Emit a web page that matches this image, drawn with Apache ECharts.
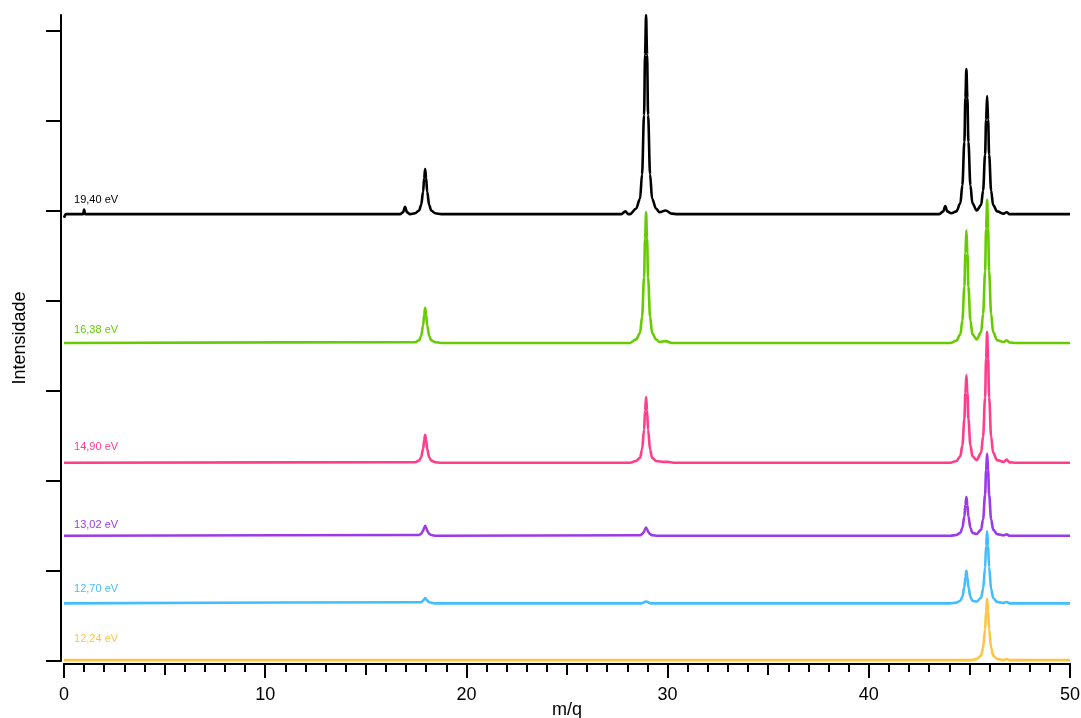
<!DOCTYPE html>
<html>
<head>
<meta charset="utf-8">
<title>Espectros de massa</title>
<script src="https://cdn.jsdelivr.net/npm/echarts@6/dist/echarts.min.js"></script>
<style>
html,body{margin:0;padding:0;background:#fff;}
#main{width:1081px;height:718px;}
</style>
</head>
<body>
<div id="main"></div>
<script>
// energias (legenda de cada espectro)
var energias = ['19,40 eV', '16,38 eV', '14,90 eV', '13,02 eV', '12,70 eV', '12,24 eV'];
// deslocamento vertical de cada espectro (linha de base)
var deslocamentos = [4.96, 3.53, 2.20, 1.39, 0.64, 0.01];
var xTicks = [0, 10, 20, 30, 40, 50];
var yTicks = [0, 1, 2, 3, 4, 5, 6, 7];

// pontos [m/q, intensidade acima da linha de base]
var e1940 = [[0,-0.04],[0.1,0],[0.95,0],[1.0,0.05],[1.05,0],[16.7,0],[16.85,0.02],[16.95,0.08],[17.05,0.02],[17.2,0],
  [17.45,0.01],[17.65,0.04],[17.75,0.10],[17.85,0.25],[17.9,0.40],[17.95,0.50],[18.0,0.40],[18.05,0.25],[18.15,0.10],[18.25,0.04],[18.45,0.01],[18.75,0],
  [27.7,0],[27.9,0.03],[28.05,0],[28.13,0],[28.43,0.06],[28.63,0.17],[28.73,0.44],[28.83,1.10],[28.88,1.77],[28.93,2.21],[28.98,1.77],[29.03,1.10],[29.13,0.44],[29.23,0.17],[29.43,0.06],
  [29.6,0.02],[29.9,0.04],[30.2,0.005],[30.5,0],
  [43.5,0],[43.7,0.03],[43.8,0.09],[43.9,0.03],[44.1,0.01],[44.35,0.03],[44.55,0.12],[44.65,0.32],[44.75,0.80],[44.8,1.29],[44.85,1.61],[44.9,1.29],[44.95,0.80],[45.05,0.32],[45.15,0.12],[45.36,0.04],
  [45.58,0.10],[45.68,0.26],[45.78,0.66],[45.83,1.05],[45.88,1.31],[45.93,1.05],[45.98,0.66],[46.08,0.26],[46.18,0.10],[46.38,0.03],[46.7,0.005],[46.85,0.02],[47.0,0],[50,0]];
var e1638 = [[0,0],[17.45,0.008],[17.65,0.03],[17.75,0.078],[17.85,0.195],[17.9,0.31],[17.95,0.39],[18.0,0.31],[18.05,0.195],[18.15,0.078],[18.25,0.03],[18.45,0.008],[18.75,0],
  [28.13,0],[28.43,0.04],[28.63,0.11],[28.73,0.29],[28.83,0.725],[28.88,1.16],[28.93,1.45],[28.98,1.16],[29.03,0.725],[29.13,0.29],[29.23,0.11],[29.43,0.04],[29.6,0.01],[29.9,0.02],[30.2,0],
  [44.05,0],[44.35,0.025],[44.55,0.095],[44.65,0.25],[44.75,0.625],[44.8,1.0],[44.85,1.25],[44.9,1.0],[44.95,0.625],[45.05,0.25],[45.15,0.095],[45.36,0.04],
  [45.58,0.12],[45.68,0.32],[45.78,0.795],[45.83,1.27],[45.88,1.59],[45.93,1.27],[45.98,0.795],[46.08,0.32],[46.18,0.12],[46.38,0.03],[46.7,0.01],[46.85,0.03],[47.0,0.005],[47.3,0],[50,0]];
var e1490 = [[0,0],[17.45,0.006],[17.65,0.024],[17.75,0.062],[17.85,0.155],[17.9,0.25],[17.95,0.31],[18.0,0.25],[18.05,0.155],[18.15,0.062],[18.25,0.024],[18.45,0.006],[18.75,0],
  [28.13,0],[28.43,0.02],[28.63,0.055],[28.73,0.146],[28.83,0.365],[28.88,0.58],[28.93,0.73],[28.98,0.58],[29.03,0.365],[29.13,0.146],[29.23,0.055],[29.43,0.02],[29.8,0.01],[30.0,0.01],[30.3,0],
  [44.05,0],[44.35,0.02],[44.55,0.073],[44.65,0.194],[44.75,0.485],[44.8,0.78],[44.85,0.97],[44.9,0.78],[44.95,0.485],[45.05,0.194],[45.15,0.073],[45.36,0.03],
  [45.58,0.11],[45.68,0.29],[45.78,0.725],[45.83,1.16],[45.88,1.45],[45.93,1.16],[45.98,0.725],[46.08,0.29],[46.18,0.11],[46.38,0.03],[46.7,0.01],[46.85,0.035],[47.0,0.005],[47.3,0],[50,0]];
var e1302 = [[0,0],[17.65,0.008],[17.75,0.022],[17.85,0.055],[17.9,0.088],[17.95,0.11],[18.0,0.088],[18.05,0.055],[18.15,0.022],[18.25,0.008],[18.5,0],
  [28.63,0.006],[28.73,0.018],[28.83,0.045],[28.88,0.072],[28.93,0.09],[28.98,0.072],[29.03,0.045],[29.13,0.018],[29.23,0.006],[29.5,0],
  [44.05,0],[44.35,0.009],[44.55,0.032],[44.65,0.086],[44.75,0.215],[44.8,0.344],[44.85,0.43],[44.9,0.344],[44.95,0.215],[45.05,0.086],[45.15,0.032],[45.36,0.02],
  [45.58,0.068],[45.68,0.182],[45.78,0.455],[45.83,0.73],[45.88,0.91],[45.93,0.73],[45.98,0.455],[46.08,0.182],[46.18,0.068],[46.38,0.018],[46.7,0.005],[46.85,0.015],[47.0,0],[50,0]];
var e1270 = [[0,0],[17.75,0.012],[17.85,0.03],[17.95,0.06],[18.05,0.03],[18.15,0.012],[18.4,0],
  [28.7,0],[28.93,0.02],[29.15,0],
  [44.05,0],[44.35,0.008],[44.55,0.028],[44.65,0.072],[44.75,0.18],[44.8,0.29],[44.85,0.36],[44.9,0.29],[44.95,0.18],[45.05,0.072],[45.15,0.028],[45.36,0.02],
  [45.58,0.06],[45.68,0.16],[45.78,0.40],[45.83,0.64],[45.88,0.80],[45.93,0.64],[45.98,0.40],[46.08,0.16],[46.18,0.06],[46.38,0.016],[46.7,0.005],[46.85,0.015],[47.0,0],[50,0]];
var e1224 = [[0,0],[45.08,0],[45.38,0.014],[45.58,0.05],[45.68,0.136],[45.78,0.34],[45.83,0.544],[45.88,0.68],[45.93,0.544],[45.98,0.34],[46.08,0.136],[46.18,0.05],[46.38,0.014],[46.7,0],[46.85,0.012],[47.0,0],[50,0]];

var espectros = [e1940, e1638, e1490, e1302, e1270, e1224];
var cores = ['#000000', '#66cc00', '#ff3d8a', '#9b3be8', '#44bdff', '#ffc444'];
var rotuloDy = [0.155, 0.145, 0.18, 0.12, 0.155, 0.23]; // altura do rótulo acima da linha de base

var series = [];
for (var i = 0; i < espectros.length; i++) {
  var off = deslocamentos[i];
  series.push({
    name: energias[i],
    type: 'line',
    xAxisIndex: 0,
    yAxisIndex: 0,
    showSymbol: false,
    silent: true,
    smooth: 0.35,
    smoothMonotone: 'x',
    lineStyle: {color: cores[i], width: 2.6},
    data: espectros[i].map(function (p) { return [p[0], p[1] + off]; }),
    markPoint: {
      symbol: 'circle',
      symbolSize: 0,
      silent: true,
      label: {
        show: true,
        position: 'right',
        distance: 0,
        formatter: energias[i],
        color: cores[i],
        fontSize: 11,
        fontFamily: 'Liberation Sans',
        letterSpacing: -0.3
      },
      data: [{coord: [0.5, off + rotuloDy[i]]}]
    }
  });
}

var chart = echarts.init(document.getElementById('main'));
var option = {
  animation: false,
  backgroundColor: '#fff',
  textStyle: {fontFamily: 'Liberation Sans'},
  grid: {left: 64, right: 11, top: 15, bottom: 57, outerBoundsMode: 'none', containLabel: false},
  xAxis: [
    {
      type: 'value', min: 0, max: 50, interval: 5, position: 'bottom', offset: 3,
      axisLine: {show: true, onZero: false, lineStyle: {color: '#000', width: 2}},
      axisTick: {show: true, length: 11, lineStyle: {color: '#000', width: 2}},
      minorTick: {show: true, splitNumber: 5, length: 8, lineStyle: {color: '#000', width: 2}},
      axisLabel: {show: false},
      splitLine: {show: false}
    },
    {
      type: 'value', min: 0, max: 50, interval: 10, position: 'bottom', offset: 3,
      axisLine: {show: true, onZero: false, lineStyle: {color: '#000', width: 2}},
      axisTick: {show: true, length: 14, customValues: xTicks, lineStyle: {color: '#000', width: 2}},
      axisLabel: {show: true, customValues: xTicks, margin: 22, fontSize: 18, color: '#000'},
      splitLine: {show: false},
      name: 'm/q', nameLocation: 'middle', nameGap: 37, nameMoveOverlap: false,
      nameTextStyle: {fontSize: 18, color: '#000'}
    }
  ],
  yAxis: [{
    type: 'value', min: 0, max: 7.17, offset: 3,
    axisLine: {show: true, onZero: false, lineStyle: {color: '#000', width: 2}},
    axisTick: {show: true, length: 15, customValues: yTicks, lineStyle: {color: '#000', width: 2}},
    axisLabel: {show: false},
    splitLine: {show: false},
    name: 'Intensidade', nameLocation: 'middle', nameGap: 32, nameMoveOverlap: false,
    nameTextStyle: {fontSize: 18, color: '#000'}
  }],
  series: series
};
chart.setOption(option);
</script>
</body>
</html>
